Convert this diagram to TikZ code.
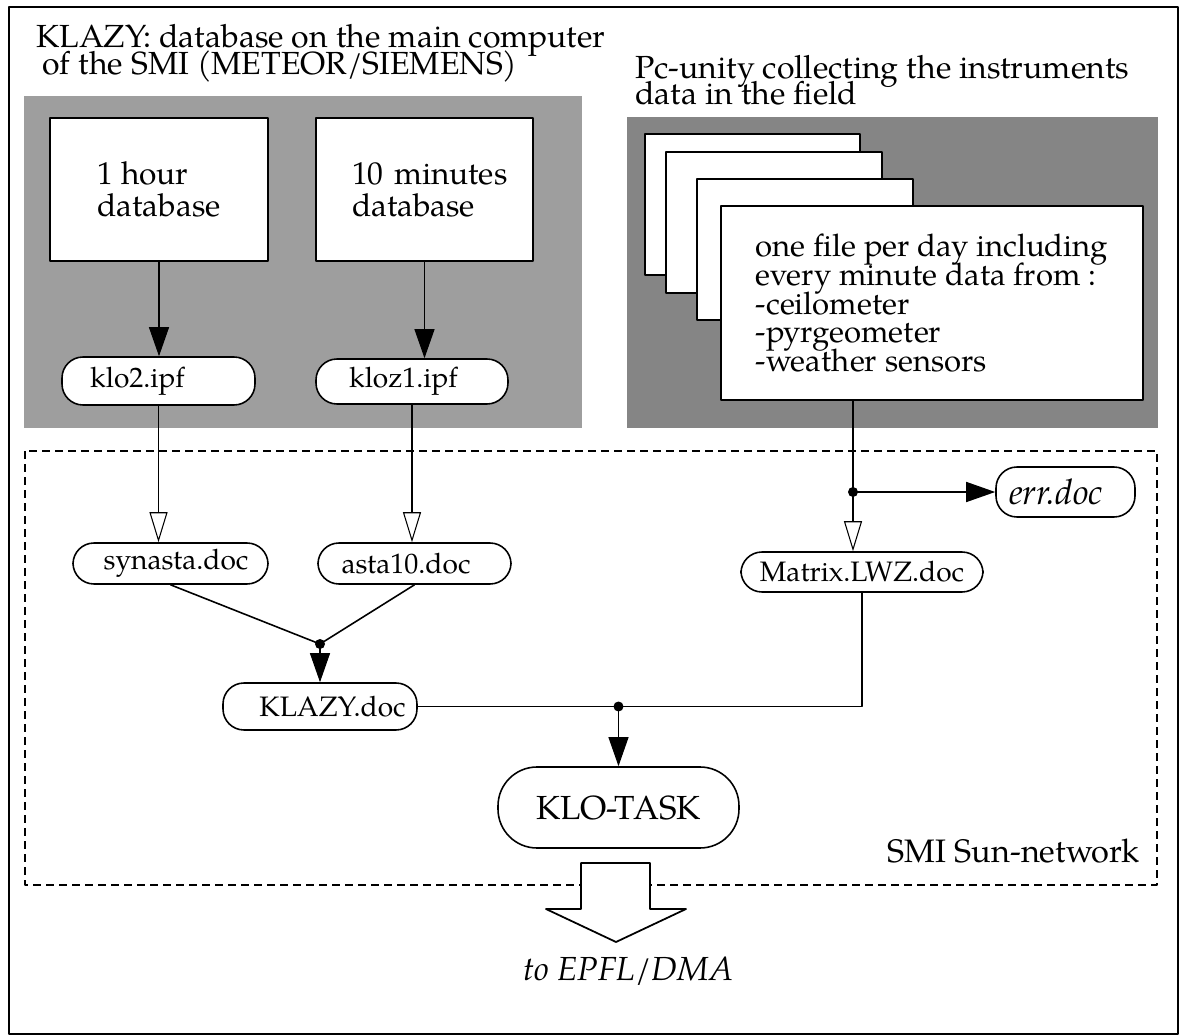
\documentclass[tikz,border=0pt]{standalone}
\usepackage{fontspec}
\setmainfont{TeX Gyre Pagella}
\usetikzlibrary{arrows.meta, positioning, calc}
\setlength{\lineskiplimit}{-100pt}

\tikzset{
  dbbox/.style={draw, fill=white, line width=1.1pt, minimum width=4.36cm, minimum height=2.86cm,
    align=left, font=\fontsize{18}{18.2}\selectfont},
  pill/.style={draw, fill=white, line width=0.9pt, rounded corners=0.42cm, inner ysep=0pt,
    font=\fontsize{16}{18}\selectfont},
  nudge/.style={execute at begin node={\hspace*{#1}\hspace*{#1}}},
  sheet/.style={draw, fill=white, line width=1.1pt},
  flow/.style={line width=0.6pt, -{Triangle[length=0.58cm, width=0.4cm]}},
  hollow/.style={line width=0.6pt, -{Triangle[open, length=0.6cm, width=0.36cm]}},
  wire/.style={line width=0.9pt},
  heading/.style={anchor=base west, inner sep=0pt, align=left},
}

\begin{document}
\begin{tikzpicture}[font=\fontsize{18}{20}\selectfont, line join=round]

    \useasboundingbox (0,0) rectangle (23.6,-20.7);

    % outer frame
    \draw[line width=1.2pt] (0.18,-0.14) rectangle (23.56,-20.68);

    % headings (anchored on their last line)
    \node[heading, font=\fontsize{18.2}{15.9}\selectfont] (host) at (0.72,-1.50)
      {KLAZY: database on the main computer\\\hspace*{0.12cm}of the SMI (METEOR/SIEMENS)};
    \node[heading, font=\fontsize{18.2}{15.2}\selectfont] (field) at (12.70,-2.10)
      {Pc-unity collecting the instruments\\data in the field};

    % grey panels: SMI main computer (left), field pc (right)
    \fill[black!38] (0.48,-1.92) rectangle (11.64,-8.56);
    \fill[black!48] (12.54,-2.34) rectangle (23.16,-8.56);

    % Sun-network
    \draw[line width=1pt, dash pattern=on 0.16cm off 0.1cm] (0.50,-9.02) rectangle (23.14,-17.70);
    \node[anchor=base east, inner sep=0pt, font=\fontsize{18.5}{20}\selectfont] (net) at (22.80,-17.24) {SMI Sun-network};

    % databases
    \node[dbbox] (hour) at (3.18,-3.79) {1 hour\\database};
    \node[dbbox, minimum width=4.34cm, text width=2.9cm, inner xsep=0.72cm] (mins) at (8.49,-3.79)
      {\mbox{10 minutes}\\database};

    % daily files, stacked
    \node[sheet, minimum width=4.30cm, minimum height=2.82cm] (day1) at (15.05,-4.09) {};
    \node[sheet, minimum width=4.32cm, minimum height=2.82cm] (day2) at (15.48,-4.45) {};
    \node[sheet, minimum width=4.32cm, minimum height=2.82cm] (day3) at (16.10,-4.99) {};
    \node[sheet, minimum width=8.44cm, minimum height=3.88cm, align=left,
      font=\fontsize{17.7}{16.4}\selectfont] (day) at (18.64,-6.06)
      {one file per day including\\every minute data from :\\-ceilometer\\-pyrgeometer\\-weather sensors};

    % files
    \node[pill, nudge=-0.42cm, minimum height=0.96cm, minimum width=3.86cm] (klo2) at (3.17,-7.62) {klo2.ipf};
    \node[pill, nudge=-0.17cm, minimum height=0.90cm, minimum width=3.84cm] (kloz1) at (8.24,-7.63) {kloz1.ipf};
    \node[pill, nudge=0.11cm, minimum height=0.82cm, minimum width=3.90cm] (synasta) at (3.41,-11.27) {synasta.doc};
    \node[pill, nudge=-0.17cm, minimum height=0.82cm, minimum width=3.86cm] (asta10) at (8.29,-11.27) {asta10.doc};
    \node[pill, nudge=0.25cm, minimum height=0.94cm, minimum width=3.88cm] (klazy) at (6.40,-14.13) {KLAZY.doc};
    \node[pill, minimum height=0.80cm, minimum width=4.84cm] (matrix) at (17.24,-11.44) {Matrix.LWZ.doc};
    \node[pill, nudge=-0.19cm, minimum height=1.00cm, minimum width=2.78cm,
      font=\fontsize{20}{22}\selectfont\itshape] (err) at (21.31,-9.84) {err.doc};
    \node[pill, rounded corners=0.78cm, minimum height=1.62cm, minimum width=4.82cm,
      font=\fontsize{19}{21}\selectfont] (task) at (12.37,-16.15) {KLO-TASK};

    \coordinate (merge) at (6.40,-12.88);
    \coordinate (split) at (17.06,-9.84);
    \coordinate (fork)  at (task.north |- klazy.east);

    % connectors
    \draw[flow] (hour.south) -- (hour.south |- klo2.north);
    \draw[flow] (mins.south) -- (mins.south |- kloz1.north);
    \draw[hollow] (klo2.south) -- (klo2.south |- synasta.north);
    \draw[hollow] (kloz1.south) -- (kloz1.south |- asta10.north);
    \draw[wire] (synasta.south) -- (merge) -- (asta10.south);
    \draw[flow] (merge) -- (klazy.north);
    \draw[wire] (klazy.east) -- (matrix.south |- klazy.east) -- (matrix.south);
    \draw[flow] (fork) -- (task.north);
    \draw[line width=0.6pt] (split |- day.south) -- (split);
    \draw[hollow] (split) -- (split |- matrix.north);
    \draw[flow, line width=0.9pt] (split) -- (err.west);
    \fill (merge) circle (0.1);
    \fill (fork) circle (0.1);
    \fill (split) circle (0.1);

    % outgoing transfer
    \draw[line width=1pt, fill=white] (11.62,-17.26) -- (13.00,-17.26) -- (13.00,-18.18) -- (13.72,-18.18)
      -- (12.32,-18.84) -- (10.92,-18.18) -- (11.62,-18.18) -- cycle;
    \node[anchor=base, inner sep=0pt, font=\fontsize{19}{22}\selectfont\itshape] (dest) at (12.57,-19.60) {to EPFL/DMA};

\end{tikzpicture}
\end{document}
